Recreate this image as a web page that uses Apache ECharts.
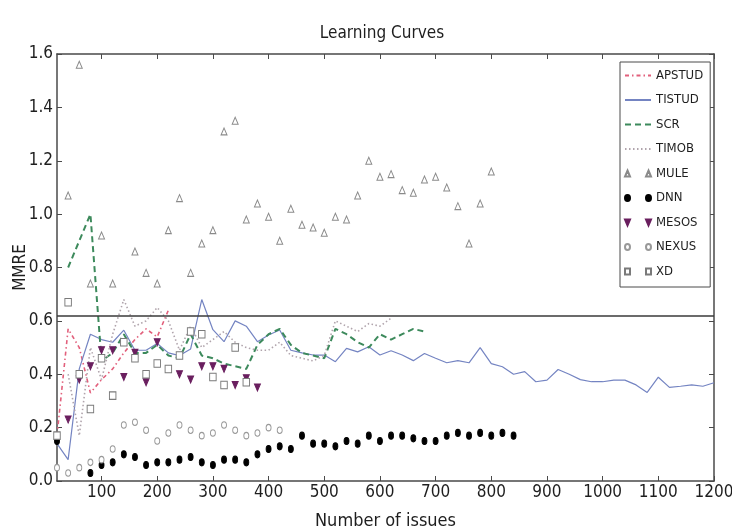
<!DOCTYPE html>
<html>
<head>
<meta charset="utf-8">
<script src="https://cdn.jsdelivr.net/npm/echarts@6/dist/echarts.min.js"></script>
<style>
  html, body { margin: 0; padding: 0; background: #fff; }
  #chart { width: 732px; height: 532px; }
</style>
</head>
<body>
<div id="chart"></div>
<script>
// Number of issues used for training (x values shared by every series)
const issues = [20, 40, 60, 80, 100, 120, 140, 160, 180, 200,
  220, 240, 260, 280, 300, 320, 340, 360, 380, 400,
  420, 440, 460, 480, 500, 520, 540, 560, 580, 600,
  620, 640, 660, 680, 700, 720, 740, 760, 780, 800,
  820, 840, 860, 880, 900, 920, 940, 960, 980, 1000,
  1020, 1040, 1060, 1080, 1100, 1120, 1140, 1160, 1180, 1200];

// MMRE per project, aligned with `issues` (null = no measurement)
const apstud = [0.17, 0.57, 0.50, 0.33, 0.38, 0.42, 0.48, 0.53, 0.57, 0.54,
  0.64];
const tistud = [0.14, 0.08, 0.42, 0.55, 0.53, 0.52, 0.565, 0.49, 0.49, 0.515,
  0.48, 0.47, 0.495, 0.68, 0.567, 0.522, 0.60, 0.58, 0.522, 0.547,
  0.566, 0.49, 0.48, 0.472, 0.472, 0.447, 0.497, 0.484, 0.503, 0.472,
  0.488, 0.472, 0.451, 0.478, 0.46, 0.443, 0.451, 0.443, 0.50, 0.44,
  0.428, 0.40, 0.41, 0.372, 0.378, 0.418, 0.40, 0.38, 0.372, 0.372,
  0.378, 0.378, 0.36, 0.332, 0.389, 0.351, 0.355, 0.36, 0.355, 0.368];
const scr = [null, 0.80, 0.90, 1.00, 0.45, 0.48, 0.55, 0.48, 0.48, 0.51,
  0.47, 0.46, 0.55, 0.47, 0.46, 0.44, 0.43, 0.42, 0.51, 0.55,
  0.57, 0.51, 0.48, 0.47, 0.46, 0.57, 0.55, 0.52, 0.50, 0.55,
  0.53, 0.55, 0.57, 0.56];
const timob = [null, 0.40, 0.17, 0.50, 0.38, 0.55, 0.68, 0.58, 0.60, 0.65,
  0.60, 0.49, 0.58, 0.50, 0.53, 0.56, 0.52, 0.50, 0.49, 0.49,
  0.52, 0.47, 0.46, 0.45, 0.47, 0.60, 0.58, 0.56, 0.59, 0.58,
  0.61];
const mule = [null, 1.07, 1.56, 0.74, 0.92, 0.74, null, 0.86, 0.78, 0.74,
  0.94, 1.06, 0.78, 0.89, 0.94, 1.31, 1.35, 0.98, 1.04, 0.99,
  0.90, 1.02, 0.96, 0.95, 0.93, 0.99, 0.98, 1.07, 1.20, 1.14,
  1.15, 1.09, 1.08, 1.13, 1.14, 1.10, 1.03, 0.89, 1.04, 1.16];
const dnn = [0.15, null, null, 0.03, 0.06, 0.07, 0.10, 0.09, 0.06, 0.07,
  0.07, 0.08, 0.09, 0.07, 0.06, 0.08, 0.08, 0.07, 0.10, 0.12,
  0.13, 0.12, 0.17, 0.14, 0.14, 0.13, 0.15, 0.14, 0.17, 0.15,
  0.17, 0.17, 0.16, 0.15, 0.15, 0.17, 0.18, 0.17, 0.18, 0.17,
  0.18, 0.17];
const mesos = [null, 0.23, 0.38, 0.43, 0.49, 0.49, 0.39, 0.48, 0.37, 0.52,
  null, 0.40, 0.38, 0.43, 0.43, 0.42, 0.36, 0.385, 0.35];
const nexus = [0.05, 0.03, 0.05, 0.07, 0.08, 0.12, 0.21, 0.22, 0.19, 0.15,
  0.18, 0.21, 0.19, 0.17, 0.18, 0.21, 0.19, 0.17, 0.18, 0.20,
  0.19];
const xd = [0.17, 0.67, 0.40, 0.27, 0.46, 0.32, 0.52, 0.46, 0.40, 0.44,
  0.42, 0.47, 0.56, 0.55, 0.39, 0.36, 0.50, 0.37];

// Horizontal reference level drawn across the whole plot
const referenceLevel = 0.62;

// Axis ticks
const xTickValues = [100, 200, 300, 400, 500, 600, 700, 800, 900, 1000, 1100, 1200];
const yTickLabels = ['0.0', '0.2', '0.4', '0.6', '0.8', '1.0', '1.2', '1.4', '1.6'];

const FONT = "'DejaVu Sans Condensed', 'DejaVu Sans', sans-serif";
const AXIS_COLOR = '#4a4a4a';
const TEXT_COLOR = '#1e1e1e';

function pairs(values, keepGaps) {
  const out = [];
  values.forEach((v, i) => {
    if (v === null || v === undefined) {
      if (keepGaps) out.push([issues[i], null]);
    } else {
      out.push([issues[i], v]);
    }
  });
  return out;
}

function lineSeries(name, values, color, type, width) {
  return {
    name, type: 'line', data: pairs(values, true), symbol: 'none',
    connectNulls: false, z: 3,
    lineStyle: { color, type, width },
    itemStyle: { color }
  };
}

function scatterSeries(name, values, symbol, size, fill, stroke) {
  return {
    name, type: 'scatter', data: pairs(values, false), symbol, symbolSize: size,
    z: 4,
    itemStyle: { color: fill, borderColor: stroke, borderWidth: 1, opacity: 1 }
  };
}

// Two small markers, one at each end of the legend swatch
const ICON_TRI = 'path://M2.5,0 L5,6 L0,6 Z M23.5,0 L26,6 L21,6 Z';
const ICON_TRI_DOWN = 'path://M0,0 L5,0 L2.5,6 Z M21,0 L26,0 L23.5,6 Z';
const ICON_DOT = 'path://M0,3 A2.5,3 0 1,0 5,3 A2.5,3 0 1,0 0,3 Z M21,3 A2.5,3 0 1,0 26,3 A2.5,3 0 1,0 21,3 Z';
const ICON_SQ = 'path://M0,0 L5,0 L5,6 L0,6 Z M21,0 L26,0 L26,6 L21,6 Z';
// Line entries show the stroke only
const LINE_ONLY = { itemStyle: { opacity: 0 } };

const tickStyle = { color: AXIS_COLOR, width: 1 };
const frameLine = { show: true, onZero: false, lineStyle: { color: AXIS_COLOR, width: 1.5 } };

const option = {
  animation: false,
  backgroundColor: '#ffffff',
  title: {
    text: 'Learning Curves',
    left: 377, top: 20, textAlign: 'center',
    textStyle: { fontFamily: FONT, fontSize: 17, fontWeight: 'normal', color: TEXT_COLOR }
  },
  grid: { left: 57, right: 18, top: 54, bottom: 51, containLabel: false, outerBoundsMode: 'none' },
  legend: {
    orient: 'vertical', left: 620, top: 62,
    padding: [7, 7, 9, 4], itemGap: 11.5, itemWidth: 26, itemHeight: 6,
    backgroundColor: '#ffffff', borderColor: AXIS_COLOR, borderWidth: 1, borderRadius: 0,
    textStyle: { fontFamily: FONT, fontSize: 13, color: TEXT_COLOR },
    data: [
      Object.assign({ name: 'APSTUD' }, LINE_ONLY),
      Object.assign({ name: 'TISTUD' }, LINE_ONLY),
      Object.assign({ name: 'SCR' }, LINE_ONLY),
      Object.assign({ name: 'TIMOB' }, LINE_ONLY),
      { name: 'MULE', icon: ICON_TRI }, { name: 'DNN', icon: ICON_DOT },
      { name: 'MESOS', icon: ICON_TRI_DOWN }, { name: 'NEXUS', icon: ICON_DOT },
      { name: 'XD', icon: ICON_SQ }
    ]
  },
  xAxis: [{
    type: 'value', min: 20, max: 1200, position: 'bottom',
    name: 'Number of issues', nameLocation: 'middle', nameGap: 31,
    nameTextStyle: { fontFamily: FONT, fontSize: 18, color: TEXT_COLOR },
    axisLine: frameLine,
    axisTick: { show: true, inside: true, length: 5, customValues: xTickValues, lineStyle: tickStyle },
    axisLabel: {
      customValues: xTickValues, fontFamily: FONT, fontSize: 17, color: TEXT_COLOR, margin: 3,
      formatter: v => String(v)
    },
    splitLine: { show: false }
  }, {
    type: 'value', min: 20, max: 1200, position: 'top',
    axisLine: frameLine,
    axisTick: { show: true, inside: true, length: 5, customValues: xTickValues, lineStyle: tickStyle },
    axisLabel: { show: false },
    splitLine: { show: false }
  }],
  yAxis: [{
    type: 'value', min: 0, max: 1.6, interval: 0.2, position: 'left',
    name: 'MMRE', nameLocation: 'middle', nameGap: 28, nameMoveOverlap: false,
    nameTextStyle: { fontFamily: FONT, fontSize: 17, color: TEXT_COLOR },
    axisLine: frameLine,
    axisTick: { show: true, inside: true, length: 5, lineStyle: tickStyle },
    axisLabel: {
      fontFamily: FONT, fontSize: 17, color: TEXT_COLOR, margin: 4,
      formatter: v => yTickLabels[Math.round(v / 0.2)]
    },
    splitLine: { show: false }
  }, {
    type: 'value', min: 0, max: 1.6, interval: 0.2, position: 'right',
    axisLine: frameLine,
    axisTick: { show: true, inside: true, length: 5, lineStyle: tickStyle },
    axisLabel: { show: false },
    splitLine: { show: false }
  }],
  series: [
    lineSeries('APSTUD', apstud, '#e2607c', [4, 3, 1.5, 3], 1.6),
    lineSeries('TISTUD', tistud, '#7484c2', 'solid', 1.2),
    lineSeries('SCR', scr, '#3d8a5c', [6, 4], 2),
    lineSeries('TIMOB', timob, '#b0a4ac', [1.5, 2.5], 1.6),
    scatterSeries('MULE', mule, 'triangle', [6, 7], '#ffffff', '#8a8a8a'),
    scatterSeries('DNN', dnn, 'circle', [5, 7], '#000000', '#000000'),
    scatterSeries('MESOS', mesos, 'path://M0,0 L10,0 L5,10 Z', [6, 7], '#6a1f5f', '#6a1f5f'),
    scatterSeries('NEXUS', nexus, 'circle', [5, 6.5], '#ffffff', '#999999'),
    scatterSeries('XD', xd, 'rect', [6.5, 7.5], '#ffffff', '#7a7a7a'),
    {
      name: 'reference', type: 'line', data: [], symbol: 'none', z: 2,
      markLine: {
        silent: true, symbol: 'none', label: { show: false },
        lineStyle: { color: '#3a3a3a', width: 1.6, type: 'solid' },
        data: [{ yAxis: referenceLevel }]
      }
    }
  ]
};

const chart = echarts.init(document.getElementById('chart'), null, { renderer: 'canvas' });
chart.setOption(option);
</script>
</body>
</html>
